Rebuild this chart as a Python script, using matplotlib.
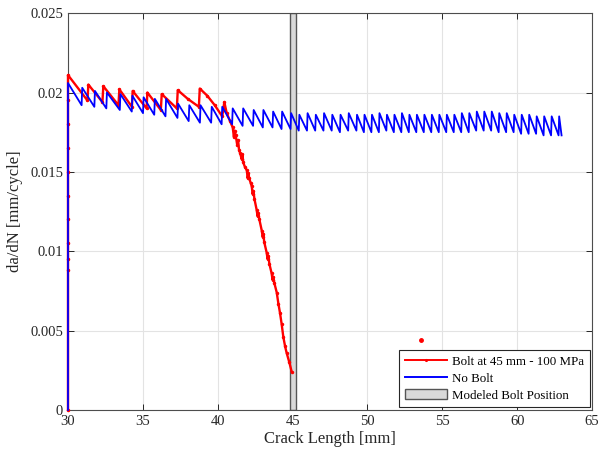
import matplotlib
matplotlib.use("Agg")
import matplotlib.pyplot as plt
from matplotlib.patches import Patch
from matplotlib.lines import Line2D

# Bolt at 45 mm - 100 MPa (red)
red_x = [30, 30, 30, 30, 30, 30, 30, 30, 30, 30,
         30.0, 31.3, 31.36, 32.3, 32.36, 33.37, 33.43, 34.27, 34.32, 35.25,
         35.3, 36.2, 36.26, 37.27, 37.33, 38.0, 38.74, 38.8, 39.3, 39.8,
         40.3, 40.44, 40.6, 40.82, 41.0, 41.08, 41.12, 41.2, 41.3, 41.36,
         41.42, 41.49, 41.6, 41.65, 41.7, 41.82, 41.94, 42.0, 42.05, 42.1,
         42.2, 42.27, 42.33, 42.38, 42.45, 42.6, 42.66, 42.7, 42.78, 42.94,
         43.0, 43.05, 43.1, 43.27, 43.33, 43.38, 43.45, 43.6, 43.66, 43.7,
         43.78, 43.94, 44.05, 44.16, 44.27, 44.38, 44.5, 44.6, 44.78, 44.94]
red_y = [0.0, 0.0088, 0.0095, 0.0105, 0.012, 0.0135, 0.015, 0.0165, 0.018, 0.0195,
         0.0211, 0.0195, 0.0205, 0.0194, 0.0204, 0.0192, 0.0202, 0.0191, 0.0201, 0.0190,
         0.0200, 0.0189, 0.0199, 0.0190, 0.02015, 0.0196, 0.0191, 0.02025, 0.0198, 0.0192,
         0.0185, 0.0194, 0.0187, 0.0182, 0.0178, 0.0172, 0.0176, 0.0173, 0.0167, 0.0170,
         0.0164, 0.0162, 0.0158, 0.0161, 0.0156, 0.0153, 0.0151, 0.0146, 0.0149, 0.0146,
         0.0143, 0.0141, 0.0136, 0.0138, 0.0133, 0.0126, 0.0122, 0.0124, 0.0120, 0.0113,
         0.0109, 0.0111, 0.0106, 0.0099, 0.0095, 0.0097, 0.0092, 0.0086, 0.0082, 0.0084,
         0.0080, 0.0074, 0.0067, 0.0061, 0.0054, 0.0046, 0.0040, 0.0036, 0.0030, 0.0024]
stray_x = [53.6]
stray_y = [0.0044]

# No Bolt (blue) sawtooth: rise at each peak position, fall to the trough
blue_peak_x = [30.0, 30.95, 31.8, 32.6, 33.5, 34.3, 35.05, 35.8, 36.55,
               37.35, 38.1, 38.85, 39.6, 40.3, 41.0, 41.7, 42.4, 43.05, 43.7, 44.3,
               44.9, 45.45, 46.0, 46.55, 47.1, 47.65, 48.2, 48.75, 49.3, 49.8,
               50.3, 50.8, 51.3, 51.8, 52.3, 52.8, 53.3, 53.8, 54.3, 54.8,
               55.3, 55.8, 56.3, 56.8, 57.3, 57.8, 58.3, 58.8, 59.3, 59.8,
               60.3, 60.8, 61.3, 61.8, 62.3, 62.8]
blue_peak_y = [0.0206, 0.0203, 0.0201, 0.0200, 0.0199, 0.0198, 0.0197, 0.0196, 0.0196,
               0.0193, 0.0192, 0.0192, 0.0191, 0.0191, 0.0190, 0.0190, 0.0189, 0.0189, 0.0188, 0.0188,
               0.0187, 0.0186, 0.0187, 0.0186, 0.0187, 0.0186, 0.0186, 0.0187, 0.0186, 0.0186,
               0.0186, 0.0187, 0.0186, 0.0186, 0.0187, 0.0186, 0.0186, 0.0186, 0.0186, 0.0186,
               0.0186, 0.0186, 0.0187, 0.0187, 0.0188, 0.0188, 0.0188, 0.0187, 0.0187, 0.0186,
               0.0186, 0.0186, 0.0185, 0.0185, 0.0185, 0.0185]
blue_trough_y = [0.0192, 0.0191, 0.0190, 0.0189, 0.0188, 0.0187, 0.0186, 0.0185, 0.0184,
                 0.0182, 0.0181, 0.0181, 0.0180, 0.0180, 0.0179, 0.0179, 0.0178, 0.0178, 0.0177, 0.0177,
                 0.0176, 0.0176, 0.0176, 0.0176, 0.0176, 0.0175, 0.0176, 0.0176, 0.0175, 0.0175,
                 0.0175, 0.0176, 0.0175, 0.0175, 0.0175, 0.0175, 0.0175, 0.0175, 0.0175, 0.0175,
                 0.0175, 0.0175, 0.0175, 0.0176, 0.0176, 0.0176, 0.0175, 0.0175, 0.0175, 0.0174,
                 0.0174, 0.0174, 0.0173, 0.0173, 0.0173, 0.0173]
blue_end_x = 63.0

bolt_lo, bolt_hi = 44.8, 45.2

xticks = [30, 35, 40, 45, 50, 55, 60, 65]
yticks = [0, 0.005, 0.01, 0.015, 0.02, 0.025]
ytick_labels = ["0", "0.005", "0.01", "0.015", "0.02", "0.025"]


def blue_path():
    xs = [30.0]
    ys = [0.0]
    nxt = blue_peak_x[1:] + [blue_end_x]
    for i, px in enumerate(blue_peak_x):
        xs.append(px)
        ys.append(blue_peak_y[i])
        xs.append(nxt[i] - 0.04)
        ys.append(blue_trough_y[i])
    return xs, ys


def main():
    plt.rcParams['font.family'] = ['Liberation Serif', 'DejaVu Serif']
    fig = plt.figure(figsize=(5.99, 4.54), dpi=100)
    ax = fig.add_axes([0.1135, 0.097, 0.875, 0.874])

    ax.axvspan(bolt_lo, bolt_hi, facecolor='#d9d9d9', edgecolor='#555555',
               linewidth=1.0, zorder=1)
    ax.plot(red_x, red_y, color='#ff0000', lw=1.7, marker='.', ms=3, zorder=3,
            clip_on=False)
    ax.plot(stray_x, stray_y, color='#ff0000', marker='.', ms=5, ls='none', zorder=3)
    bx, by = blue_path()
    ax.plot(bx, by, color='#0000ff', lw=1.3, zorder=4, clip_on=False)

    ax.set_xlim(30, 65)
    ax.set_ylim(0, 0.025)
    ax.set_xticks(xticks)
    ax.set_yticks(yticks)
    ax.set_yticklabels(ytick_labels)
    ax.grid(True, color='#e3e3e3', lw=0.8)
    ax.set_axisbelow(True)
    ax.tick_params(direction='in', top=True, right=True, labelsize=10.5,
                   colors='#262626', length=4, width=0.7)
    for s in ax.spines.values():
        s.set_color('#4d4d4d')
        s.set_linewidth(0.8)
    ax.set_xlabel('Crack Length [mm]', fontsize=12, color='#262626', labelpad=2)
    ax.set_ylabel('da/dN [mm/cycle]', fontsize=12, color='#262626', labelpad=5)

    handles = [
        Line2D([], [], color='#ff0000', lw=1.4, marker='.', ms=2.5, markevery=[1]),
        Line2D([], [], color='#0000ff', lw=1.4),
        Patch(facecolor='#d9d9d9', edgecolor='#555555', lw=1.0),
    ]
    labels = ['Bolt at 45 mm - 100 MPa', 'No Bolt', 'Modeled Bolt Position']
    leg = ax.legend(handles, labels, loc='lower right', fontsize=9.3,
                    fancybox=False, framealpha=1, edgecolor='#262626',
                    handlelength=3.2, handleheight=0.9, borderpad=0.45,
                    labelspacing=0.3, handletextpad=0.4, borderaxespad=0.2)
    leg.get_frame().set_linewidth(0.8)

    fig.savefig('out.png', dpi=100)


if __name__ == "__main__":
    main()
